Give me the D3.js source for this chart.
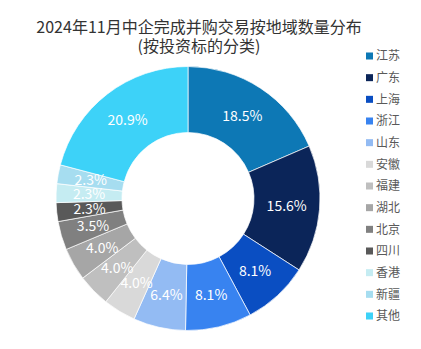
<!DOCTYPE html>
<html><head><meta charset="utf-8">
<script src="https://cdn.jsdelivr.net/npm/d3@7"></script>
<style>body{margin:0;background:#fff;} svg{display:block;font-family:"Noto Sans CJK SC","Open Sans",sans-serif;}</style>
</head><body>
<script>
const categories = ["江苏","广东","上海","浙江","山东","安徽","福建","湖北","北京","四川","香港","新疆","其他"];
const values = [18.5,15.6,8.1,8.1,6.4,4.0,4.0,4.0,3.5,2.3,2.3,2.3,20.9];
const colors = ["#0D78B5","#0B2559","#0A4EC2","#3883F0","#93BBF3","#D9D9D9","#BFBFBF","#A6A6A6","#808080","#595959","#C5ECF2","#A6DDF0","#3DD2F8"];
const titleLines = ["2024年11月中企完成并购交易按地域数量分布","(按投资标的分类)"];

const W=421,H=349;
const svg=d3.select("body").append("svg").attr("width",W).attr("height",H);
svg.selectAll("text.title").data(titleLines).enter().append("text")
  .attr("class","title")
  .attr("x",199).attr("y",(d,i)=>33+i*19).attr("text-anchor","middle")
  .attr("font-size",16).attr("fill","#333").text(d=>d);

const cx=188, cy=198.5, rOuter=132, rInner=66;
const pie=d3.pie().sort(null).value(d=>d)(values);
const arc=d3.arc().innerRadius(rInner).outerRadius(rOuter);
const g=svg.append("g").attr("transform",`translate(${cx},${cy})`);
g.selectAll("path").data(pie).enter().append("path")
  .attr("d",arc).attr("fill",(d,i)=>colors[i]).attr("stroke","#fff").attr("stroke-width",0.7);
g.selectAll("text").data(pie).enter().append("text")
  .attr("transform",d=>`translate(${arc.centroid(d)})`)
  .attr("text-anchor","middle").attr("dy","0.35em")
  .attr("font-size",14).attr("fill","#fff")
  .text(d=>d.data.toFixed(1)+"%");

const lg=svg.append("g");
const ly=d3.scaleLinear().domain([0,categories.length-1]).range([56,316]);
const item=lg.selectAll("g").data(categories).enter().append("g")
  .attr("transform",(d,i)=>`translate(366,${ly(i)})`);
item.append("rect").attr("x",0).attr("y",-3.5).attr("width",7).attr("height",7).attr("fill",(d,i)=>colors[i]);
item.append("text").attr("x",10).attr("dy","0.35em").attr("font-size",12).attr("fill","#595959").text(d=>d);
</script>
</body></html>
